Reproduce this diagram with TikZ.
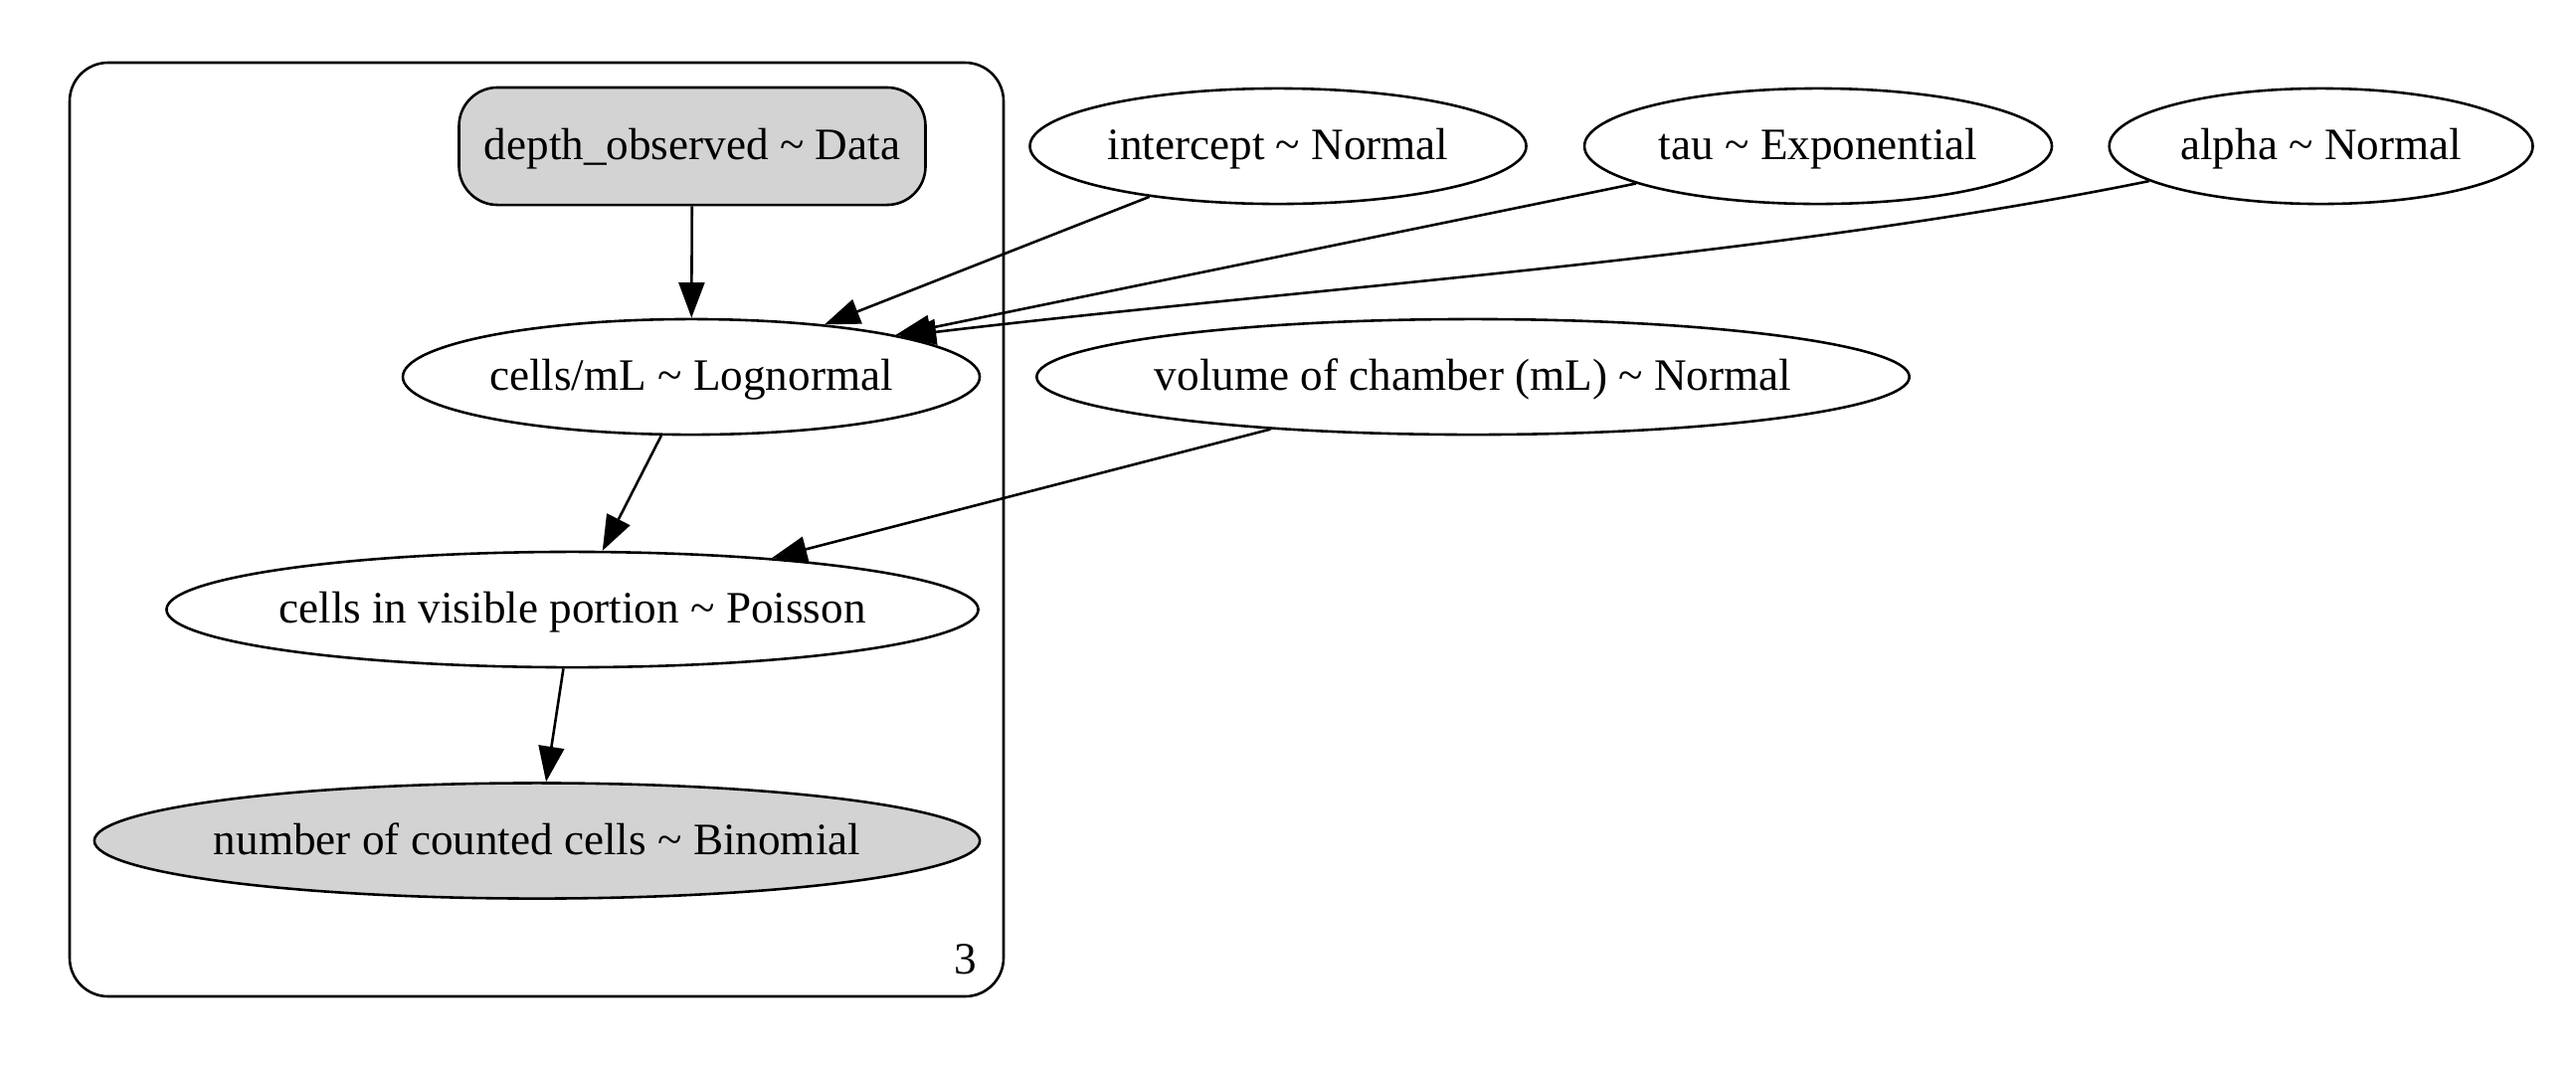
\documentclass[tikz,border=0pt]{standalone}
\usepackage{fontspec}
\setmainfont{Liberation Serif}
\usetikzlibrary{shapes.geometric,arrows.meta}
\definecolor{lightgrey}{HTML}{D3D3D3}
\newcommand{\pmlabel}[1]{\hbox to 0pt{\hss #1\hss}}
\begin{document}
\begin{tikzpicture}[x=0.31pt, y=-0.31pt, font=\fontsize{14}{16}\selectfont,
  rv/.style={thick, shape=ellipse, draw=black, inner sep=0pt, minimum height=36pt, text height=11.5pt, text depth=3pt},
  obs/.style={rv, fill=lightgrey},
  edge/.style={thick, -{Triangle[length=11pt,width=8pt]}}]
\useasboundingbox (0,0) rectangle (2590,1070);
% plate
\draw[thick, rounded corners=12pt] (70,63) rectangle (1009,1002);
\node (8) at (971,965) {3};
% nodes
\node[thick, shape=rectangle, rounded corners=12pt, draw=black, fill=lightgrey, inner sep=0pt, minimum width=145.4pt, minimum height=36.6pt, text height=11.5pt, text depth=3pt](0) at (696,147) {\pmlabel{depth\_observed \textasciitilde{} Data}};
\node[rv, minimum width=179.8pt](1) at (695,379) {\pmlabel{cells/mL \textasciitilde{} Lognormal}};
\node[rv, minimum width=253pt](2) at (575.5,613) {\pmlabel{cells in visible portion \textasciitilde{} Poisson}};
\node[obs, minimum width=276pt](3) at (540,845.5) {\pmlabel{number of counted cells \textasciitilde{} Binomial}};
\node[rv, minimum width=154.7pt](4) at (1285,147) {\pmlabel{intercept \textasciitilde{} Normal}};
\node[rv, minimum width=145.7pt](5) at (1828,147) {\pmlabel{tau \textasciitilde{} Exponential}};
\node[rv, minimum width=132pt](6) at (2333.6,147) {\pmlabel{alpha \textasciitilde{} Normal}};
\node[rv, minimum width=272pt](7) at (1481,379) {\pmlabel{volume of chamber (mL) \textasciitilde{} Normal}};
% edges
\draw[edge] (0) -- (1);
\draw[edge] (4) -- (1);
\draw[edge] (5) -- (1);
\draw[edge] (6) .. controls (1777,260) and (1317,289) .. (1.11.5);
\draw[edge] (1) -- (2);
\draw[edge] (7) -- (2);
\draw[edge] (2) -- (3);
\end{tikzpicture}
\end{document}
